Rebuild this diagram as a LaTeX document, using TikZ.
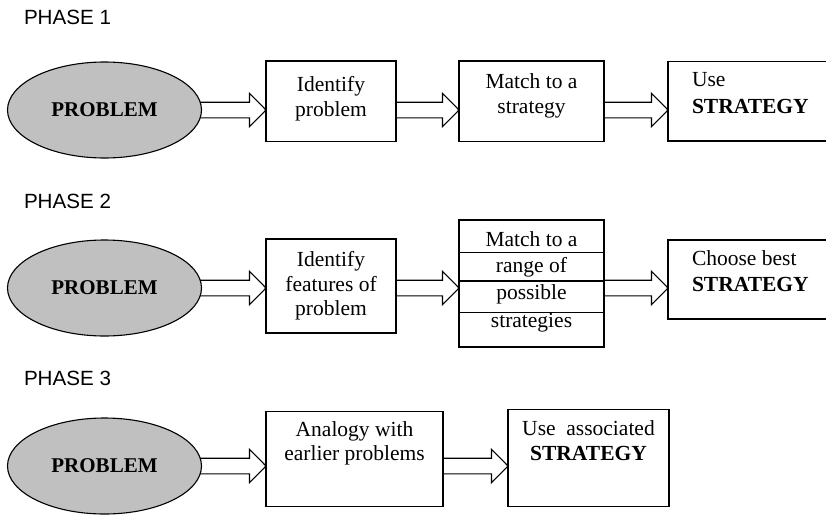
\documentclass[tikz,border=0pt]{standalone}
\usepackage{fontspec}
\setmainfont{Liberation Serif}
\newfontfamily\labelfont{Liberation Sans}
\usetikzlibrary{shapes.geometric,calc,backgrounds}
\definecolor{ovalgray}{RGB}{192,192,192}

% hollow block arrow from node #1 to node #2, level with node #3
\newcommand\blockarrow[3]{%
  \path[arrowbody] let \p1=(#1.east), \p2=(#2.west |- #3) in
    (\x1-4pt,\y2+7.8pt) -- (\x2-16.5pt,\y2+7.8pt) -- (\x2-16.5pt,\y2+16.7pt)
    -- (\p2) -- (\x2-16.5pt,\y2-16.7pt) -- (\x2-16.5pt,\y2-7.8pt)
    -- (\x1-4pt,\y2-7.8pt) -- cycle;}

\begin{document}
\begin{tikzpicture}[x=1pt,y=-1pt,
  every node/.style={inner sep=0pt, outer sep=0pt},
  box/.style={draw, fill=white, line width=1.1pt, rectangle},
  oval/.style={draw, fill=ovalgray, ellipse, line width=1.1pt,
    minimum width=194pt, minimum height=96pt,
    font=\fontsize{21}{24}\selectfont\bfseries},
  txt/.style={font=\fontsize{21.5}{24.5}\selectfont, anchor=base},
  ltxt/.style={font=\fontsize{21.5}{24.5}\selectfont, anchor=base west},
  phase/.style={font=\labelfont\fontsize{20.6}{24}\selectfont, anchor=base west},
  arrowbody/.style={draw, fill=white, line width=1.1pt, line join=miter}]

\useasboundingbox (0,0) rectangle (826,514);
\clip (0,0) rectangle (826,514);

% ---------- Phase 1 ----------
\node[phase] (ph1) at (24,24) {PHASE 1};
\node[oval] (e1) at (104.5,110) {PROBLEM};
\node[box, minimum width=130pt, minimum height=80.5pt] (a1) at (331,101.25) {};
\node[box, minimum width=145pt, minimum height=80.5pt] (b1) at (531.5,101.25) {};
\node[box, minimum width=162pt, minimum height=79.5pt] (c1) at (749,101.25) {};
\node[txt] (ta1) at (331,91.5) {\begin{tabular}[t]{@{}c@{}}Identify\\problem\end{tabular}};
\node[txt] (tb1) at (531.5,88.5) {\begin{tabular}[t]{@{}c@{}}Match to a\\strategy\end{tabular}};
\node[ltxt] (tc1) at (692,86.7) {\begin{tabular}[t]{@{}l@{}}Use\\[2pt]\textbf{STRATEGY}\end{tabular}};

% ---------- Phase 2 ----------
\node[phase] (ph2) at (24,208.3) {PHASE 2};
\node[oval] (e2) at (104.5,288) {PROBLEM};
\node[box, minimum width=130pt, minimum height=94pt] (a2) at (331,286) {};
\node[box, minimum width=145pt, minimum height=32.7pt] (m1) at (531.5,236.35) {};
\node[box, minimum width=145pt, minimum height=28.3pt] (m2) at (531.5,266.85) {};
\node[box, minimum width=145pt, minimum height=31.7pt] (m3) at (531.5,296.85) {};
\node[box, minimum width=145pt, minimum height=34.3pt] (m4) at (531.5,329.85) {};
\node[box, minimum width=162pt, minimum height=79pt] (c2) at (749,279.5) {};
\node[txt] (ta2) at (331,266.5) {\begin{tabular}[t]{@{}c@{}}Identify\\features of\\problem\end{tabular}};
\node[txt] (tm1) at (531.5,246) {Match to a};
\node[txt] (tm2) at (531.5,272) {range of};
\node[txt] (tm3) at (531.5,299.3) {possible};
\node[txt] (tm4) at (531.5,327.5) {strategies};
\node[ltxt] (tc2) at (692,265) {\begin{tabular}[t]{@{}l@{}}Choose best\\[2pt]\textbf{STRATEGY}\end{tabular}};

% ---------- Phase 3 ----------
\node[phase] (ph3) at (24,385.7) {PHASE 3};
\node[oval] (e3) at (104.5,466) {PROBLEM};
\node[box, minimum width=177pt, minimum height=94.6pt] (a3) at (354.5,459) {};
\node[box, minimum width=161pt, minimum height=96.8pt] (b3) at (588.5,457.9) {};
\node[txt] (ta3) at (354.5,436) {\begin{tabular}[t]{@{}c@{}}Analogy with\\earlier problems\end{tabular}};
\node[txt] (tb3) at (588.5,435) {\begin{tabular}[t]{@{}c@{}}Use\ \ associated\\[1pt]\textbf{STRATEGY}\end{tabular}};

% ---------- block arrows ----------
\begin{scope}[on background layer]
  \blockarrow{e1}{a1}{e1}
  \blockarrow{a1}{b1}{e1}
  \blockarrow{b1}{c1}{e1}
  \blockarrow{e2}{a2}{e2}
  \blockarrow{a2}{m1}{e2}
  \blockarrow{m1}{c2}{e2}
  \blockarrow{e3}{a3}{e3}
  \blockarrow{a3}{b3}{e3}
\end{scope}
\end{tikzpicture}
\end{document}
